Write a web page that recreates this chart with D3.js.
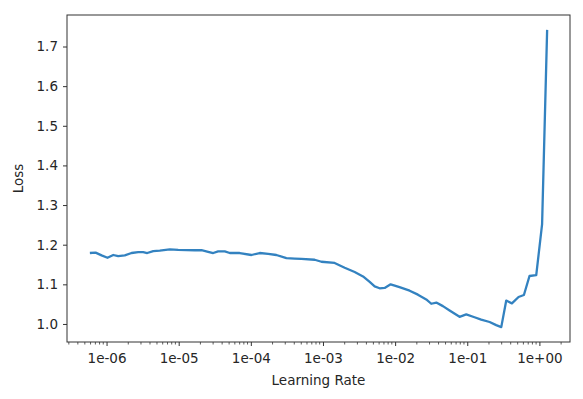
<!DOCTYPE html>
<html lang="en">
<head>
    <meta charset="UTF-8">
    <style>
        body { margin: 0; background: #fff; }
        text { font-family: "DejaVu Sans", sans-serif; }
    </style>
</head>
<body>
    <script src="https://d3js.org/d3.v7.min.js"></script>
    <div id="here"></div>

    <script>
        // learning rate finder result: lr vs loss
        const lrs = [5.87e-7, 7.05e-7, 8.53e-7, 1.03e-6, 1.24e-6, 1.45e-6, 1.79e-6, 2.22e-6, 2.75e-6, 3.22e-6,
            3.66e-6, 4.44e-6, 5.47e-6, 7.53e-6, 9.84e-6, 1.67e-5, 2.07e-5, 2.56e-5, 3.01e-5, 3.52e-5,
            4.35e-5, 5.11e-5, 7.01e-5, 1.02e-4, 1.33e-4, 1.74e-4, 2.26e-4, 3.11e-4, 4.06e-4, 5.02e-4,
            7.67e-4, 9.51e-4, 1.45e-3, 2.00e-3, 2.75e-3, 3.59e-3, 4.44e-3, 5.20e-3, 6.10e-3, 7.16e-3,
            8.67e-3, 1.15e-2, 1.59e-2, 2.07e-2, 2.70e-2, 3.17e-2, 3.72e-2, 4.60e-2, 5.69e-2, 7.82e-2,
            9.68e-2, 0.126, 0.156, 0.204, 0.252, 0.296, 0.347, 0.416, 0.514, 0.610,
            0.729, 0.904, 1.09, 1.28];
        const losses = [1.179, 1.180, 1.173, 1.167, 1.174, 1.171, 1.173, 1.179, 1.181, 1.181,
            1.179, 1.184, 1.185, 1.188, 1.187, 1.186, 1.186, 1.182, 1.179, 1.183,
            1.183, 1.179, 1.179, 1.174, 1.179, 1.177, 1.174, 1.166, 1.165, 1.164,
            1.162, 1.157, 1.154, 1.142, 1.131, 1.120, 1.106, 1.095, 1.090, 1.091,
            1.100, 1.093, 1.084, 1.074, 1.062, 1.051, 1.054, 1.045, 1.034, 1.018,
            1.024, 1.017, 1.011, 1.005, 0.997, 0.992, 1.059, 1.052, 1.068, 1.073,
            1.121, 1.123, 1.252, 1.742];

        const yTicks = [1.0, 1.1, 1.2, 1.3, 1.4, 1.5, 1.6, 1.7];
        const xTicks = [1e-6, 1e-5, 1e-4, 1e-3, 1e-2, 1e-1, 1e0];

        const data = lrs.map((lr, i) => ({ lr, loss: losses[i] }));

        const margin = {top: 15, right: 13, bottom: 57, left: 67},
            width = 583 - margin.left - margin.right,
            height = 399 - margin.top - margin.bottom;

        const svg = d3.select("#here")
            .append("svg")
                .attr("width", width + margin.left + margin.right)
                .attr("height", height + margin.top + margin.bottom)
            .append("g")
                .attr("transform", `translate(${margin.left},${margin.top})`);

        // matplotlib style 5% padding (in log space for x)
        const lx = d3.extent(lrs, d => Math.log10(d));
        const padX = (lx[1] - lx[0]) * 0.05;
        const x = d3.scaleLog()
            .domain([Math.pow(10, lx[0] - padX), Math.pow(10, lx[1] + padX)])
            .range([0, width]);

        const ly = d3.extent(losses);
        const padY = (ly[1] - ly[0]) * 0.05;
        const y = d3.scaleLinear()
            .domain([ly[0] - padY, ly[1] + padY])
            .range([height, 0]);

        const textColor = "#262626";

        // minor ticks on log axis
        const minor = [];
        for (let e = -7; e <= 0; e++) {
            for (let m = 2; m <= 9; m++) {
                const v = m * Math.pow(10, e);
                if (v >= x.domain()[0] && v <= x.domain()[1]) minor.push(v);
            }
        }

        const xAxis = svg.append("g")
            .attr("transform", `translate(0,${height})`)
            .call(d3.axisBottom(x).tickValues(xTicks).tickSize(4).tickPadding(7)
                .tickFormat(d => d3.format(".0e")(d).replace(/e([+-])(\d)$/, "e$10$2")));
        xAxis.select(".domain").remove();
        xAxis.selectAll("text").style("font-size", "13.5px").attr("fill", textColor);
        xAxis.selectAll("line").attr("stroke", "#333");

        svg.append("g")
            .attr("transform", `translate(0,${height})`)
            .selectAll("line")
            .data(minor)
            .join("line")
                .attr("x1", d => x(d)).attr("x2", d => x(d))
                .attr("y1", 0).attr("y2", 2.5)
                .attr("stroke", "#333").attr("stroke-width", 0.8);

        const yAxis = svg.append("g")
            .call(d3.axisLeft(y).tickValues(yTicks).tickSize(4).tickPadding(5).tickFormat(d3.format(".1f")));
        yAxis.select(".domain").remove();
        yAxis.selectAll("text").style("font-size", "13.5px").attr("fill", textColor);
        yAxis.selectAll("line").attr("stroke", "#333");

        // frame
        svg.append("rect")
            .attr("x", 0).attr("y", 0)
            .attr("width", width).attr("height", height)
            .attr("fill", "none")
            .attr("stroke", "#333")
            .attr("stroke-width", 1);

        svg.append("path")
            .datum(data)
            .attr("fill", "none")
            .attr("stroke", "#3382c0")
            .attr("stroke-width", 2.3)
            .attr("stroke-linejoin", "round")
            .attr("d", d3.line().x(d => x(d.lr)).y(d => y(d.loss)));

        svg.append("text")
            .attr("x", width / 2)
            .attr("y", height + 43)
            .attr("text-anchor", "middle")
            .style("font-size", "13.5px")
            .attr("fill", textColor)
            .text("Learning Rate");

        svg.append("text")
            .attr("transform", `translate(${-44},${height / 2}) rotate(-90)`)
            .attr("text-anchor", "middle")
            .style("font-size", "13.5px")
            .attr("fill", textColor)
            .text("Loss");
    </script>
</body>
</html>
